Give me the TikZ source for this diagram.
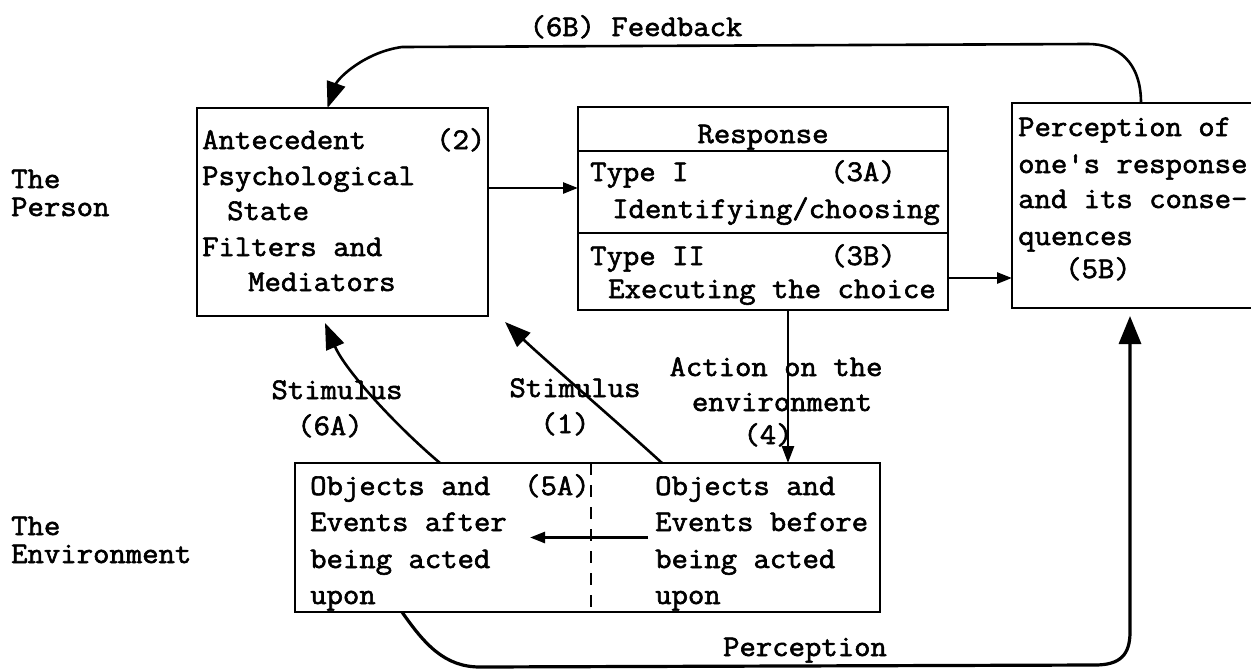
\documentclass[tikz,border=0pt]{standalone}
\usepackage{fontspec}
\setmonofont{Latin Modern Mono}[FakeBold=2,FakeStretch=1.06]
\usetikzlibrary{arrows.meta}
\begin{document}
\begin{tikzpicture}[x=1pt,y=-1pt,
  boxnode/.style={draw, line width=2.6pt, inner sep=0pt, outer sep=0pt, anchor=north west},
  lbl/.style={font=\ttfamily\fontsize{30}{30}\selectfont, inner sep=0pt, anchor=base west},
  clbl/.style={font=\ttfamily\fontsize{30}{30}\selectfont, inner sep=0pt, anchor=base},
  conn/.style={line width=2.6pt},
  smalltip/.style={-{Triangle[length=15pt,width=11pt]}},
  bigtip/.style={-{Triangle[length=26pt,width=19pt]}}]
\useasboundingbox (0,0) rectangle (1251,670);
\clip (0,0) rectangle (1251,670);
\fill[white] (0,0) rectangle (1251,670);

% side captions
\node[lbl] (cap1) at (11,188) {The};
\node[lbl] (cap2) at (11,216) {Person};
\node[lbl] (cap3) at (11,535) {The};
\node[lbl] (cap4) at (11,563) {Environment};

% boxes
\node[boxnode, minimum width=291pt, minimum height=208pt] (ante) at (197,108) {};
\node[boxnode, minimum width=370pt, minimum height=203pt] (resp) at (578,107) {};
\node[boxnode, minimum width=258pt, minimum height=205pt] (perc) at (1012,103) {};
\node[boxnode, minimum width=585pt, minimum height=149pt] (env) at (295,463) {};

% response box rows
\draw[conn] ([yshift=-44pt]resp.north west) -- ([yshift=-44pt]resp.north east);
\draw[conn] ([yshift=-126pt]resp.north west) -- ([yshift=-126pt]resp.north east);
% environment box split
\draw[line width=2.2pt, dash pattern=on 12pt off 10pt] ([xshift=3.5pt]env.north) -- ([xshift=3.5pt]env.south);

% antecedent state text
\node[lbl] (a1) at (202,149) {Antecedent};
\node[lbl] (a2) at (436,149) {(2)};
\node[lbl] (a3) at (202,185) {Psychological};
\node[lbl] (a4) at (227,220) {State};
\node[lbl] (a5) at (202,256) {Filters and};
\node[lbl] (a6) at (248,291) {Mediators};

% response text
\node[clbl] (r0) at (763,143) {Response};
\node[lbl] (r1) at (590,181) {Type I};
\node[lbl] (r2) at (830,181) {(3A)};
\node[lbl] (r3) at (612,218) {Identifying/choosing};
\node[lbl] (r4) at (590,265) {Type II};
\node[lbl] (r5) at (830,265) {(3B)};
\node[lbl] (r6) at (608,298) {Executing the choice};

% perception box text
\node[lbl] (p1) at (1018,136) {Perception of};
\node[lbl] (p2) at (1018,173) {one's response};
\node[lbl] (p3) at (1018,208) {and its conse-};
\node[lbl] (p4) at (1018,245) {quences};
\node[lbl] (p5) at (1065,278) {(5B)};

% environment text
\node[lbl] (e1) at (310,495) {Objects and};
\node[lbl] (e2) at (524,495) {(5A)};
\node[lbl] (e3) at (310,531) {Events after};
\node[lbl] (e4) at (310,568) {being acted};
\node[lbl] (e5) at (310,604) {upon};
\node[lbl] (f1) at (655,495) {Objects and};
\node[lbl] (f2) at (655,531) {Events before};
\node[lbl] (f3) at (655,568) {being acted};
\node[lbl] (f4) at (655,604) {upon};

% connector labels
\node[clbl] (fb) at (636,36) {(6B) Feedback};
\node[clbl] (s6a) at (337,399) {Stimulus};
\node[clbl] (s6b) at (330,435) {(6A)};
\node[clbl] (s1a) at (575,397) {Stimulus};
\node[clbl] (s1b) at (565,433) {(1)};
\node[clbl] (act1) at (776,376) {Action on the};
\node[clbl] (act2) at (782,411) {environment};
\node[clbl] (act3) at (768,444) {(4)};
\node[clbl] (pc) at (805,656) {Perception};

% connector end points on the box borders
\coordinate (anteOut) at ([yshift=24pt]ante.east);
\coordinate (respOut) at ([yshift=-69.5pt]resp.east);
\coordinate (actTop) at ([xshift=25pt]resp.south);
\coordinate (envMidR) at ([xshift=60.5pt]env.center);
\coordinate (envMidL) at ([xshift=-57.5pt]env.center);

% connectors
\draw[conn, bigtip] (perc.north) .. controls (1141,62) and (1118,44) .. (1088,44)
  -- (402,47) .. controls (365,52) and (338,78) .. ([xshift=-15pt]ante.north);
\draw[conn, smalltip] (anteOut) -- (resp.west |- anteOut);
\draw[conn, smalltip] (respOut) -- (perc.west |- respOut);
\draw[conn, -{Triangle[length=17pt,width=12pt]}] (actTop) -- (actTop |- env.north);
\draw[line width=2.6pt, bigtip] ([xshift=-147.5pt]env.north) .. controls (395,425) and (345,370) .. ([xshift=-17.5pt,yshift=-7pt]ante.south);
\draw[line width=2.6pt, bigtip] ([xshift=74.5pt]env.north) .. controls (615,420) and (545,360) .. ([xshift=162.5pt,yshift=-6pt]ante.south);
\draw[conn, smalltip] (envMidR) -- (envMidL);
\draw[line width=3.2pt, {Triangle[length=28pt,width=22pt]}-] ([xshift=-11pt,yshift=-8pt]perc.south)
  -- (1130,632) .. controls (1130,655) and (1120,665) .. (1095,665)
  -- (480,667) .. controls (445,667) and (425,645) .. ([xshift=-185.5pt]env.south);
\end{tikzpicture}
\end{document}
